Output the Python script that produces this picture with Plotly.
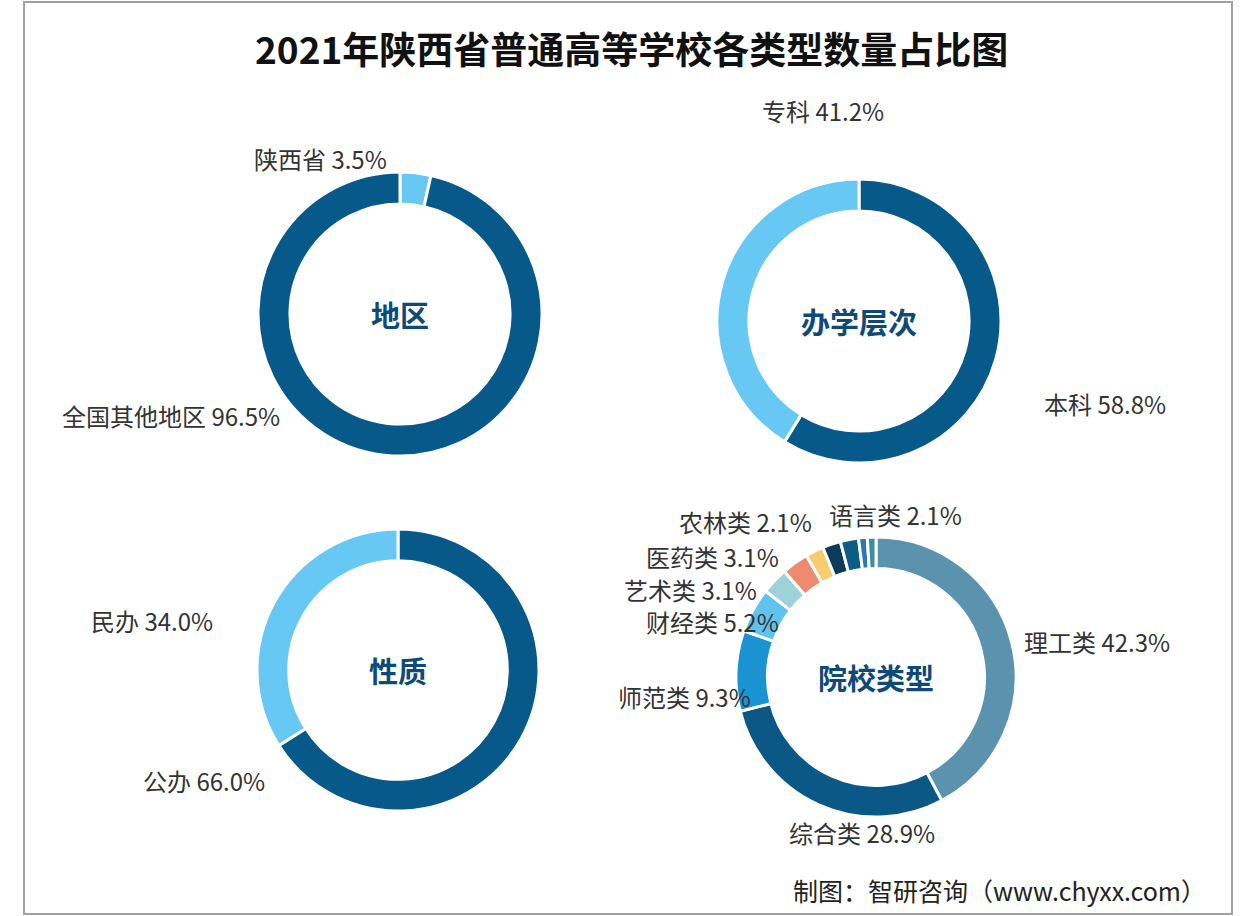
import plotly.graph_objects as go

W, H = 1254, 916

# ---------------- data ----------------
title_text = "2021年陕西省普通高等学校各类型数量占比图"
source_text = "制图：智研咨询（www.chyxx.com）"

region_names = ["陕西省", "全国其他地区"]
region_values = [3.5, 96.5]

level_names = ["本科", "专科"]
level_values = [58.8, 41.2]

nature_names = ["公办", "民办"]
nature_values = [66.0, 34.0]

type_names = ["理工类", "综合类", "师范类", "财经类", "艺术类", "医药类",
              "农林类", "语言类", "政法类", "体育类", "民族类"]
type_values = [42.3, 28.9, 9.3, 5.2, 3.1, 3.1, 2.1, 2.1, 2.1, 1.0, 1.0]
type_labeled = [True, True, True, True, True, True, True, True, False, False, False]

center_titles = ["地区", "办学层次", "性质", "院校类型"]

# ---------------- styles / positions ----------------
DARK = "#07598a"
LIGHT = "#66c8f3"
region_colors = [LIGHT, DARK]
level_colors = [DARK, LIGHT]
nature_colors = [DARK, LIGHT]
type_colors = ["#5b93ae", "#0b5886", "#1a93d3", "#60c3ee", "#9dd3d8", "#ee8a6e",
               "#f6cd6c", "#0d3a5a", "#0c5c86", "#2b78b7", "#3d8d9f"]

# donut centres (px) and outer radius (px)
donut_geom = [(400, 314, 142), (859, 321, 142), (398, 670, 141), (876, 677, 140)]
HOLE = 0.775

# label centres (px) per slice
region_label_pos = [(320, 158), (171, 415)]
level_label_pos = [(1105, 403), (823, 110)]
nature_label_pos = [(204, 780), (152, 620)]
type_label_pos = [(1097, 641), (862, 832), (684, 696), (712, 621), (690, 589),
                  (712, 556), (745, 521), (895, 514), None, None, None]


def px_domain(cx, cy, r):
    return dict(x=[(cx - r) / W, (cx + r) / W], y=[1 - (cy + r) / H, 1 - (cy - r) / H])


fig = go.Figure()

datasets = [
    (region_names, region_values, region_colors, region_label_pos, [True, True]),
    (level_names, level_values, level_colors, level_label_pos, [True, True]),
    (nature_names, nature_values, nature_colors, nature_label_pos, [True, True]),
    (type_names, type_values, type_colors, type_label_pos, type_labeled),
]

annotations = []
for (names, vals, cols, lpos, show), (cx, cy, r), ctitle in zip(datasets, donut_geom, center_titles):
    fig.add_trace(go.Pie(
        labels=names, values=vals, hole=HOLE, sort=False, direction="clockwise",
        rotation=0, marker=dict(colors=cols, line=dict(color="white", width=3)),
        textinfo="none", hoverinfo="label+percent", showlegend=False,
        domain=px_domain(cx, cy, r),
    ))
    for n, v, p, s in zip(names, vals, lpos, show):
        if s and p is not None:
            annotations.append(dict(
                x=p[0] / W, y=1 - p[1] / H, xref="paper", yref="paper",
                text=f"{n} {v:.1f}%", showarrow=False,
                font=dict(family="Noto Sans CJK SC", size=24, color="#333333"),
                xanchor="center", yanchor="middle"))
    annotations.append(dict(
        x=cx / W, y=1 - cy / H, xref="paper", yref="paper", text=ctitle,
        showarrow=False, xanchor="center", yanchor="middle",
        font=dict(family="Noto Sans CJK SC", size=29, color="#0e4a78", weight="bold")))

annotations.append(dict(
    x=631 / W, y=1 - 48 / H, xref="paper", yref="paper", text=title_text,
    showarrow=False, xanchor="center", yanchor="middle",
    font=dict(family="Noto Sans CJK SC", size=37, color="#111111", weight="bold")))
annotations.append(dict(
    x=1208 / W, y=1 - 890 / H, xref="paper", yref="paper", text=source_text,
    showarrow=False, xanchor="right", yanchor="middle",
    font=dict(family="Noto Sans CJK SC", size=25, color="#222222")))

fig.update_layout(
    width=W, height=H, autosize=False,
    margin=dict(l=0, r=0, t=0, b=0),
    paper_bgcolor="white", plot_bgcolor="white",
    annotations=annotations,
    shapes=[dict(type="rect", xref="paper", yref="paper",
                 x0=24 / W, x1=1232 / W, y0=1 - 914 / H, y1=1 - 2 / H,
                 line=dict(color="#a0a0a8", width=2), fillcolor="rgba(0,0,0,0)")],
)

fig.write_html("out.html", config={"displayModeBar": False},
               post_script="document.body.style.margin='0';document.body.style.overflow='hidden';")
